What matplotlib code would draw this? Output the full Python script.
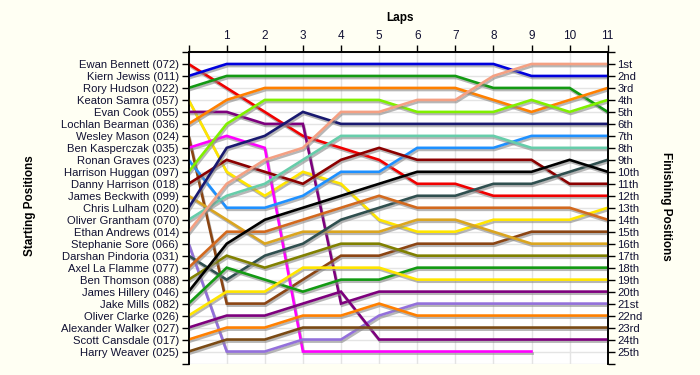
import numpy as np
import matplotlib
matplotlib.use("Agg")
import matplotlib.pyplot as plt
import matplotlib.patheffects as pe

plt.rcParams['font.family'] = ['Liberation Sans', 'DejaVu Sans']

laps = list(range(12))
lap_labels = ['', '1', '2', '3', '4', '5', '6', '7', '8', '9', '10', '11']

drivers = [
    "Ewan Bennett (072)", "Kiern Jewiss (011)", "Rory Hudson (022)", "Keaton Samra (057)",
    "Evan Cook (055)", "Lochlan Bearman (036)", "Wesley Mason (024)", "Ben Kasperczak (035)",
    "Ronan Graves (023)", "Harrison Huggan (097)", "Danny Harrison (018)", "James Beckwith (099)",
    "Chris Lulham (020)", "Oliver Grantham (070)", "Ethan Andrews (014)", "Stephanie Sore (066)",
    "Darshan Pindoria (031)", "Axel La Flamme (077)", "Ben Thomson (088)", "James Hillery (046)",
    "Jake Mills (082)", "Oliver Clarke (026)", "Alexander Walker (027)", "Scott Cansdale (017)",
    "Harry Weaver (025)",
]

finish_labels = ["1st", "2nd", "3rd", "4th", "5th", "6th", "7th", "8th", "9th", "10th",
                 "11th", "12th", "13th", "14th", "15th", "16th", "17th", "18th", "19th",
                 "20th", "21st", "22nd", "23rd", "24th", "25th"]

ewan_bennett = [1, 3, 5, 7, 8, 9, 11, 11, 12, 12, 12, 12]
kiern_jewiss = [2, 1, 1, 1, 1, 1, 1, 1, 1, 2, 2, 2]
rory_hudson = [3, 2, 2, 2, 2, 2, 2, 2, 3, 3, 3, 5]
keaton_samra = [4, 10, 12, 10, 11, 14, 15, 15, 14, 14, 14, 13]
evan_cook = [5, 5, 6, 6, 21, 20, 20, 20, 20, 20, 20, 20]
lochlan_bearman = [6, 4, 3, 3, 3, 3, 3, 3, 4, 5, 4, 3]
wesley_mason = [7, 21, 21, 19, 17, 17, 16, 16, 16, 15, 15, 15]
ben_kasperczak = [8, 7, 8, 25, 25, 25, 25, 25, 25, 25, None, None]
ronan_graves = [9, 13, 13, 12, 10, 10, 8, 8, 8, 7, 7, 7]
harrison_huggan = [10, 6, 4, 4, 4, 4, 5, 5, 5, 4, 5, 4]
danny_harrison = [11, 9, 10, 11, 9, 8, 9, 9, 9, 9, 11, 11]
james_beckwith = [12, 14, 16, 15, 15, 15, 14, 14, 15, 16, 16, 16]
chris_lulham = [13, 8, 7, 5, 6, 6, 6, 6, 6, 6, 6, 6]
oliver_grantham = [14, 12, 11, 9, 7, 7, 7, 7, 7, 8, 8, 8]
ethan_andrews = [15, 11, 9, 8, 5, 5, 4, 4, 2, 1, 1, 1]
stephanie_sore = [16, 25, 25, 24, 24, 22, 21, 21, 21, 21, 21, 21]
darshan_pindoria = [17, 19, 17, 16, 14, 13, 12, 12, 11, 11, 10, 9]
axel_la_flamme = [18, 15, 15, 14, 13, 12, 13, 13, 13, 13, 13, 14]
ben_thomson = [19, 17, 18, 17, 16, 16, 17, 17, 17, 17, 17, 17]
james_hillery = [20, 16, 14, 13, 12, 11, 10, 10, 10, 10, 9, 10]
jake_mills = [21, 18, 19, 20, 19, 19, 18, 18, 18, 18, 18, 18]
oliver_clarke = [22, 20, 20, 18, 18, 18, 19, 19, 19, 19, 19, 19]
alexander_walker = [23, 22, 22, 21, 20, 24, 24, 24, 24, 24, 24, 24]
scott_cansdale = [24, 23, 23, 22, 22, 21, 22, 22, 22, 22, 22, 22]
harry_weaver = [25, 24, 24, 23, 23, 23, 23, 23, 23, 23, 23, 23]

series = [ewan_bennett, kiern_jewiss, rory_hudson, keaton_samra, evan_cook, lochlan_bearman,
          wesley_mason, ben_kasperczak, ronan_graves, harrison_huggan, danny_harrison,
          james_beckwith, chris_lulham, oliver_grantham, ethan_andrews, stephanie_sore,
          darshan_pindoria, axel_la_flamme, ben_thomson, james_hillery, jake_mills,
          oliver_clarke, alexander_walker, scott_cansdale, harry_weaver]

colors = ['#F00000', '#0000DD', '#139A13', '#FFE500', '#7D007D', '#FF8000',
          '#8B4513', '#FF00FF', '#1E90FF', '#80F000', '#8B0000',
          '#DAA520', '#191970', '#66CDAA', '#F4A083', '#9370DB',
          '#2F4F4F', '#D2691E', '#808000', '#000000', '#139A13',
          '#FFE500', '#7D007D', '#FF8000', '#7A4A14']

fig = plt.figure(figsize=(7, 3.75), dpi=100, facecolor='#FFFFF3')
ax = fig.add_axes([188.6 / 700, 1 - 363.5 / 375, (607.7 - 188.6) / 700, (363.5 - 52) / 375])
ax.set_facecolor('white')

shadow = [pe.SimpleLineShadow(offset=(0.8, -1.5), shadow_color='#888888', alpha=0.6), pe.Normal()]
for vals, col in zip(series, colors):
    y = np.array([np.nan if v is None else v for v in vals], dtype=float)
    ax.plot(laps, y, color=col, lw=1.9, solid_joinstyle='miter', path_effects=shadow, zorder=3)

ax.set_xlim(0, 11)
ax.set_ylim(26, 0)

ax.set_xticks(laps)
ax.set_xticklabels(lap_labels)
ax.xaxis.tick_top()

yt = list(range(27))
ax.set_yticks(yt)
ax.set_yticklabels([''] + drivers + [''])

ax2 = ax.twinx()
ax2.set_ylim(26, 0)
ax2.set_yticks(yt)
ax2.set_yticklabels([''] + finish_labels + [''])

for a in (ax, ax2):
    a.spines['bottom'].set_visible(False)
    a.tick_params(length=5, width=1, colors='black', labelsize=8.1, pad=2, direction='out')
    for s in ('left', 'right', 'top'):
        a.spines[s].set_linewidth(1.2)
ax.tick_params(axis='x', top=True, bottom=False, labeltop=True, labelbottom=False, labelsize=8.5)
for lbl in ax.get_xticklabels() + ax.get_yticklabels() + ax2.get_yticklabels():
    lbl.set_color('#111133')

ax.grid(True, color='#E4E4E4', lw=1, zorder=0)
ax.set_axisbelow(True)

fig.text(400 / 700, 1 - 18 / 375, 'Laps', ha='center', va='center', fontsize=8.5, fontweight='bold')
fig.text(30 / 700, 1 - 206 / 375, 'Starting Positions', ha='center', va='center', rotation=90,
         fontsize=8.5, fontweight='bold')
fig.text(666 / 700, 1 - 206 / 375, 'Finishing Positions', ha='center', va='center', rotation=270,
         fontsize=8.5, fontweight='bold')

fig.savefig('out.png', dpi=100, facecolor=fig.get_facecolor())
